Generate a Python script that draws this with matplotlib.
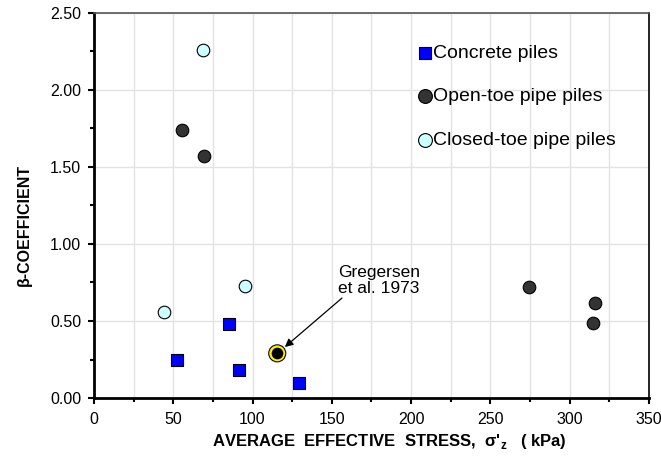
import matplotlib.pyplot as plt
from matplotlib.ticker import MultipleLocator, FormatStrFormatter

plt.rcParams['font.family'] = ['Liberation Sans', 'DejaVu Sans']
plt.rcParams['mathtext.fontset'] = 'custom'
plt.rcParams['mathtext.rm'] = 'Liberation Sans'
plt.rcParams['mathtext.bf'] = 'Liberation Sans:bold'

# concrete piles
conc_x = [52.5, 85.3, 91.4, 129.3]
conc_y = [0.25, 0.48, 0.18, 0.10]
# open-toe pipe piles
open_x = [55.5, 69.4, 274.3, 316.0, 314.4]
open_y = [1.74, 1.57, 0.72, 0.62, 0.49]
# closed-toe pipe piles
closed_x = [68.5, 44.3, 95.2]
closed_y = [2.26, 0.56, 0.73]
# Gregersen et al. 1973
greg_x = 115.6
greg_y = 0.29

fig = plt.figure(figsize=(6.61, 4.62), dpi=100)
ax = fig.add_axes([0.142, 0.1385, 0.840, 0.8335])

ax.scatter(conc_x, conc_y, marker='s', s=70, c='#0000ff', edgecolors='black',
           linewidths=0.8, zorder=3, label='Concrete piles')
ax.scatter(open_x, open_y, marker='o', s=82, c='#333333', edgecolors='black',
           linewidths=0.8, zorder=3, label='Open-toe pipe piles')
ax.scatter(closed_x, closed_y, marker='o', s=82, c='#ccffff', edgecolors='black',
           linewidths=0.8, zorder=3, label='Closed-toe pipe piles')
ax.scatter([greg_x], [greg_y], marker='o', s=100, c='black', edgecolors='#ffee00',
           linewidths=1.6, zorder=4)
ax.scatter([greg_x], [greg_y], marker='o', s=150, facecolors='none', edgecolors='black',
           linewidths=0.8, zorder=4)

# label and arrow pointing at the Gregersen point
ax.text(179.7, 0.763, 'Gregersen\net al. 1973', ha='center', va='center',
        multialignment='center', fontsize=12.5, linespacing=1.05)
ax.annotate('', xy=(120.4, 0.331), xytext=(156.4, 0.649),
            arrowprops=dict(arrowstyle='-|>', color='black', lw=0.9,
                            shrinkA=0, shrinkB=0, mutation_scale=12))

ax.set_xlim(0, 350)
ax.set_ylim(0, 2.5)
ax.xaxis.set_major_locator(MultipleLocator(50))
ax.xaxis.set_minor_locator(MultipleLocator(25))
ax.yaxis.set_major_locator(MultipleLocator(0.5))
ax.yaxis.set_minor_locator(MultipleLocator(0.25))
ax.yaxis.set_major_formatter(FormatStrFormatter('%.2f'))

ax.grid(True, axis='x', which='both', color='#e3e3e3', lw=1.0, zorder=0)
ax.grid(True, axis='y', which='major', color='#e3e3e3', lw=1.0, zorder=0)
ax.set_axisbelow(True)

ax.tick_params(axis='both', which='both', direction='out', colors='black',
               labelsize=11.5, width=1.5)
ax.tick_params(axis='both', which='major', length=4)
ax.tick_params(axis='both', which='minor', length=3)
ax.tick_params(axis='x', pad=6)
ax.tick_params(axis='y', pad=5)

for side in ['left', 'bottom']:
    ax.spines[side].set_linewidth(2.0)
    ax.spines[side].set_color('black')
ax.spines['top'].set_linewidth(1.2)
ax.spines['top'].set_color('#555555')
ax.spines['right'].set_linewidth(1.2)
ax.spines['right'].set_color('black')

ax.set_ylabel('β-COEFFICIENT', fontsize=11.5, fontweight='bold')
ax.yaxis.set_label_coords(-0.112, 0.449)
ax.set_xlabel("AVERAGE  EFFECTIVE  STRESS,  σ'$_\\mathbf{z}$   ( kPa)",
              fontsize=12, fontweight='bold')
ax.xaxis.set_label_coords(0.532, -0.088)

ax.legend(loc='upper left', bbox_to_anchor=(0.576, 0.919), frameon=False,
          fontsize=14, handletextpad=-0.2, labelspacing=1.33, markerscale=1.1,
          handlelength=1.2, borderaxespad=0.0, borderpad=0.0)

fig.savefig('out.png', dpi=100)
